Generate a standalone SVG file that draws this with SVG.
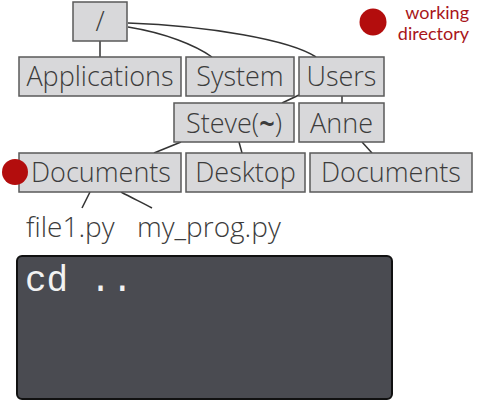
<svg xmlns="http://www.w3.org/2000/svg" width="480" height="402" viewBox="0 0 480 402">
<style>
.box{fill:#d8d8da;stroke:#5a5a5a;stroke-width:1.5}
.lbl{font-family:"Open Sans","Noto Sans",sans-serif;font-weight:300;font-size:27px;fill:#3c3c3c;text-anchor:middle}
.file{font-family:"Open Sans","Noto Sans",sans-serif;font-weight:300;font-size:28px;fill:#3c3c3c}
.wd{font-family:Lato,"Open Sans",sans-serif;font-weight:400;font-size:18px;fill:#a8161a;text-anchor:end}
.conn path,.conn line{fill:none;stroke:#333;stroke-width:1.5}
.dot{fill:#b30d0d}
</style>
<rect width="480" height="402" fill="#ffffff"/>
<g class="conn" id="connectors">
<line x1="100" y1="41" x2="100" y2="57"/>
<path d="M128,27 C165,33 195,45 212,57"/>
<path d="M128,23 C210,26 290,40 316,57"/>
<line x1="299" y1="95" x2="282" y2="103"/>
<line x1="342" y1="96" x2="342" y2="103"/>
<line x1="181" y1="142" x2="154" y2="153"/>
<line x1="239" y1="142" x2="242" y2="153"/>
<line x1="362" y1="142" x2="372" y2="153"/>
<line x1="90" y1="192" x2="82" y2="208"/>
<path d="M121,192 C132,198 143,203 152,208"/>
</g>
<g id="root"><rect class="box" x="73" y="2" width="54" height="39"/><text class="lbl" x="100" y="31">/</text></g>
<g id="applications"><rect class="box" x="19" y="57" width="162" height="39"/><text class="lbl" x="100" y="86">Applications</text></g>
<g id="system"><rect class="box" x="186" y="57" width="108" height="39"/><text class="lbl" x="240" y="86">System</text></g>
<g id="users"><rect class="box" x="299" y="57" width="85" height="39"/><text class="lbl" x="341.5" y="86">Users</text></g>
<g id="steve"><rect class="box" x="174" y="103" width="120" height="39"/><text class="lbl" x="234" y="133">Steve(<tspan font-weight="700">~</tspan>)</text></g>
<g id="anne"><rect class="box" x="299" y="103" width="85" height="39"/><text class="lbl" x="341.5" y="133">Anne</text></g>
<g id="documents-steve"><rect class="box" x="19" y="153" width="162" height="39"/><text class="lbl" x="101" y="182">Documents</text></g>
<g id="desktop"><rect class="box" x="186" y="153" width="119" height="39"/><text class="lbl" x="245.5" y="182">Desktop</text></g>
<g id="documents-anne"><rect class="box" x="310" y="153" width="162" height="39"/><text class="lbl" x="391" y="182">Documents</text></g>
<g id="file1"><text class="file" x="26" y="237">file1.py</text></g>
<g id="myprog"><text class="file" x="137" y="237">my_prog.py</text></g>
<circle class="dot" cx="15" cy="172" r="13"/>
<g id="legend"><circle class="dot" cx="373" cy="22" r="13.5"/><text class="wd" x="469" y="18.5">working</text><text class="wd" x="469" y="40">directory</text></g>
<g id="terminal"><rect x="17" y="256" width="375" height="143" rx="5" fill="#4a4b51" stroke="#111" stroke-width="2"/><text x="25" y="291" font-family="Liberation Mono,monospace" font-size="36" fill="#f2f2f2">cd ..</text></g>
</svg>
